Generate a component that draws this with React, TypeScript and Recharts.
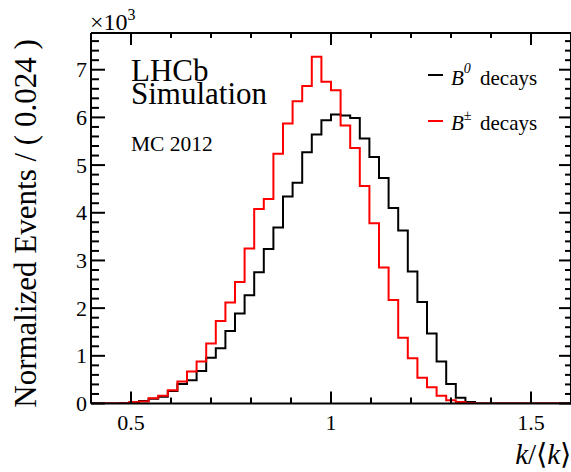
import React from 'react';
import { ComposedChart, Line, XAxis, YAxis, Legend } from 'recharts';

// Histogram definition: 50 bins of width 0.024 starting at 0.4
const binLow = 0.4;
const binWidth = 0.024;
const nBins = 50;

// Normalized events per bin, in units of 10^3
const b0Counts = [
  0, 0, 0, 0.005, 0.02, 0.05, 0.10, 0.14, 0.26, 0.41,
  0.49, 0.68, 0.96, 1.16, 1.52, 1.89, 2.27, 2.75, 3.24, 3.69,
  4.34, 4.63, 5.27, 5.64, 5.94, 6.06, 6.04, 5.99, 5.56, 5.17,
  4.73, 4.10, 3.63, 2.77, 2.13, 1.47, 0.88, 0.41, 0.12, 0.03,
  0, 0, 0, 0, 0, 0, 0, 0, 0, 0,
];
const bpmCounts = [
  0, 0, 0, 0.005, 0.03, 0.04, 0.11, 0.16, 0.28, 0.46,
  0.67, 0.88, 1.26, 1.73, 2.12, 2.55, 3.25, 4.08, 4.29, 5.24,
  5.87, 6.34, 6.66, 7.27, 6.75, 6.57, 5.83, 5.36, 4.56, 3.78,
  2.85, 2.17, 1.38, 0.95, 0.54, 0.34, 0.16, 0.07, 0.03, 0.01,
  0, 0, 0, 0, 0, 0, 0, 0, 0, 0,
];

const xTicks = [0.4, 0.5, 0.6, 0.7, 0.8, 0.9, 1.0, 1.1, 1.2, 1.3, 1.4, 1.5, 1.6];
const xMajorTicks = [0.5, 1, 1.5];
const yTicks = [
  0, 0.2, 0.4, 0.6, 0.8, 1, 1.2, 1.4, 1.6, 1.8, 2, 2.2, 2.4, 2.6, 2.8, 3,
  3.2, 3.4, 3.6, 3.8, 4, 4.2, 4.4, 4.6, 4.8, 5, 5.2, 5.4, 5.6, 5.8, 6,
  6.2, 6.4, 6.6, 6.8, 7, 7.2, 7.4, 7.6,
];
const yMajorTicks = [0, 1, 2, 3, 4, 5, 6, 7];

const legendEntries = [
  { key: 'b0', sup: '0', color: '#000000' },
  { key: 'bpm', sup: '\u00B1', color: '#ff0000' },
];

// build step table: one point per bin edge (last edge repeats last bin)
const table = Array.from({ length: nBins + 1 }, (_, i) => ({
  x: Math.round((binLow + i * binWidth) * 1000) / 1000,
  b0: b0Counts[Math.min(i, nBins - 1)],
  bpm: bpmCounts[Math.min(i, nBins - 1)],
}));

const SERIF = "'Liberation Serif', 'Times New Roman', Times, serif";
const X_DOMAIN: [number, number] = [0.4, 1.6];
const Y_DOMAIN: [number, number] = [0, 7.77];

const isIn = (v: number, arr: number[]) => arr.some((a) => Math.abs(a - v) < 1e-6);

const BottomTick = (props: any) => {
  const { x, y, payload } = props;
  const major = isIn(payload.value, xMajorTicks);
  return (
    <g>
      <line x1={x} y1={y} x2={x} y2={y - (major ? 12 : 6)} stroke="#000" strokeWidth={2} />
      {major && (
        <text x={x} y={y + 26.5} textAnchor="middle" fontFamily={SERIF} fontSize={22} fill="#000">
          {String(payload.value)}
        </text>
      )}
    </g>
  );
};

const TopTick = (props: any) => {
  const { x, y, payload } = props;
  const major = isIn(payload.value, xMajorTicks);
  return <line x1={x} y1={y} x2={x} y2={y + (major ? 12 : 5)} stroke="#000" strokeWidth={2} />;
};

const LeftTick = (props: any) => {
  const { x, y, payload } = props;
  const major = isIn(payload.value, yMajorTicks);
  return (
    <g>
      <line x1={x} y1={y} x2={x + (major ? 14 : 8)} y2={y} stroke="#000" strokeWidth={2} />
      {major && (
        <text x={x - 4} y={y + 7.5} textAnchor="end" fontFamily={SERIF} fontSize={22} fill="#000">
          {String(payload.value)}
        </text>
      )}
    </g>
  );
};

const RightTick = (props: any) => {
  const { x, y, payload } = props;
  const major = isIn(payload.value, yMajorTicks);
  return <line x1={x} y1={y} x2={x - (major ? 12 : 6)} y2={y} stroke="#000" strokeWidth={2} />;
};

const LegendContent = () => (
  <svg width={150} height={90} style={{ display: 'block', overflow: 'visible' }}>
    {legendEntries.map((e, i) => {
      const yl = 20 + i * 46;
      const yb = 30 + i * 45;
      return (
        <g key={e.key}>
          <line x1={8} y1={yl} x2={23} y2={yl} stroke={e.color} strokeWidth={2} />
          <text x={31} y={yb} fontFamily={SERIF} fontSize={21} fill="#000">
            <tspan fontStyle="italic">B</tspan>
            <tspan fontStyle="italic" fontSize={14} dy={i === 0 ? -12 : -10}>
              {e.sup}
            </tspan>
            <tspan x={60} dy={i === 0 ? 12 : 10}>
              decays
            </tspan>
          </text>
        </g>
      );
    })}
  </svg>
);

const axisLineStyle = { stroke: '#000', strokeWidth: 2 };

export default function App() {
  return (
    <div style={{ position: 'absolute', left: 0, top: 0, width: 571, height: 472, background: '#fff' }}>
      <ComposedChart
        width={571}
        height={472}
        data={table}
        margin={{ top: 23, right: -2, bottom: 38.5, left: 51 }}
      >
        <XAxis
          dataKey="x"
          type="number"
          domain={X_DOMAIN}
          ticks={xTicks}
          interval={0}
          allowDataOverflow
          height={30}
          tickSize={0}
          tickMargin={0}
          tickLine={false}
          axisLine={axisLineStyle}
          tick={BottomTick}
        />
        <XAxis
          xAxisId="top"
          orientation="top"
          dataKey="x"
          type="number"
          domain={X_DOMAIN}
          ticks={xTicks}
          interval={0}
          allowDataOverflow
          height={10}
          tickSize={0}
          tickMargin={0}
          tickLine={false}
          axisLine={axisLineStyle}
          tick={TopTick}
        />
        <YAxis
          type="number"
          domain={Y_DOMAIN}
          ticks={yTicks}
          interval={0}
          allowDataOverflow
          width={40}
          tickSize={0}
          tickMargin={0}
          tickLine={false}
          axisLine={axisLineStyle}
          tick={LeftTick}
        />
        <YAxis
          yAxisId="right"
          orientation="right"
          type="number"
          domain={Y_DOMAIN}
          ticks={yTicks}
          interval={0}
          allowDataOverflow
          width={2}
          tickSize={0}
          tickMargin={0}
          tickLine={false}
          axisLine={axisLineStyle}
          tick={RightTick}
        />
        <Line
          type="stepAfter"
          dataKey="b0"
          name="B0 decays"
          stroke="#000000"
          strokeWidth={2}
          dot={false}
          activeDot={false}
          isAnimationActive={false}
        />
        <Line
          type="stepAfter"
          dataKey="bpm"
          name="B± decays"
          stroke="#ff0000"
          strokeWidth={2}
          dot={false}
          activeDot={false}
          isAnimationActive={false}
        />
        <Legend
          layout="vertical"
          align="center"
          verticalAlign="middle"
          content={<LegendContent />}
          wrapperStyle={{ position: 'absolute', left: 420, top: 55, width: 150, height: 90 }}
        />
      </ComposedChart>
      <svg
        width={571}
        height={472}
        style={{ position: 'absolute', left: 0, top: 0, pointerEvents: 'none' }}
      >
        <text x={90} y={30} fontFamily={SERIF} fontSize={24} fill="#000">
          ×10<tspan fontSize={16} dy={-10}>3</tspan>
        </text>
        <text
          x={36}
          y={223.5}
          transform="rotate(-90, 36, 223.5)"
          textAnchor="middle"
          fontFamily={SERIF}
          fontSize={31}
          fill="#000"
        >
          Normalized Events / ( 0.024 )
        </text>
        <text x={571} y={464} textAnchor="end" fontFamily={SERIF} fontSize={29} fill="#000">
          <tspan fontStyle="italic">k</tspan>/⟨<tspan fontStyle="italic">k</tspan>⟩
        </text>
        <text x={131} y={81} fontFamily={SERIF} fontSize={31} fill="#000">
          LHCb
        </text>
        <text x={131} y={104} fontFamily={SERIF} fontSize={31} fill="#000">
          Simulation
        </text>
        <text x={131} y={151} fontFamily={SERIF} fontSize={21.5} fill="#000">
          MC 2012
        </text>
      </svg>
    </div>
  );
}
